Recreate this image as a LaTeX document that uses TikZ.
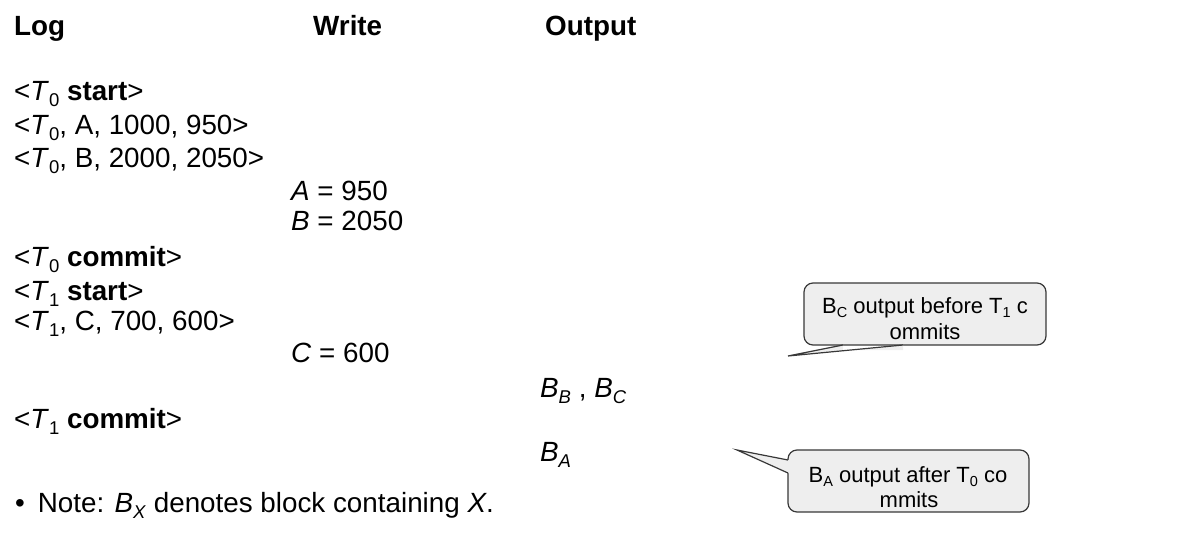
\documentclass[tikz,border=0pt]{standalone}
\usepackage{fontspec}
\setmainfont{Liberation Sans}
\newcommand{\bsub}[1]{\raisebox{-6pt}{\fontsize{18.5}{18.5}\selectfont #1}}
\newcommand{\csub}[1]{\raisebox{-4.5pt}{\fontsize{14.5}{14.5}\selectfont #1}}
\definecolor{bubblefill}{HTML}{EEEEEE}
\definecolor{bubbleline}{HTML}{383838}
\begin{document}
\begin{tikzpicture}[x=1pt,y=-1pt,
  txt/.style={anchor=base west, inner sep=0pt, font=\fontsize{27.8}{33}\selectfont},
  hdr/.style={anchor=base west, inner sep=0pt, font=\fontsize{27.8}{33}\selectfont\bfseries},
  btxt/.style={anchor=base, inner sep=0pt, font=\fontsize{22}{26}\selectfont},
  bubble/.style={fill=bubblefill, draw=bubbleline, line width=1.2pt, rounded corners=9pt, inner sep=0pt},
  tail/.style={draw=bubbleline, line width=1.2pt, line join=miter},
]
\useasboundingbox (0,0) rectangle (1192,541);

% headers
\node[hdr] (hlog) at (14,35) {Log};
\node[hdr] (hwrite) at (313,35) {Write};
\node[hdr] (hout) at (545,35) {Output};

% log column
\node[txt] (l1) at (14,100) {<\textit{T}\bsub{0} \textbf{start}>};
\node[txt] (l2) at (14,134) {<\textit{T}\bsub{0}, A, 1000, 950>};
\node[txt] (l3) at (14,167) {<\textit{T}\bsub{0}, B, 2000, 2050>};
\node[txt] (l4) at (14,266) {<\textit{T}\bsub{0} \textbf{commit}>};
\node[txt] (l5) at (14,300) {<\textit{T}\bsub{1} \textbf{start}>};
\node[txt] (l6) at (14,330) {<\textit{T}\bsub{1}, C, 700, 600>};
\node[txt] (l7) at (14,428) {<\textit{T}\bsub{1} \textbf{commit}>};

% write column
\node[txt] (w1) at (291,200) {\textit{A} = 950};
\node[txt] (w2) at (291,230) {\textit{B} = 2050};
\node[txt] (w3) at (291,362) {\textit{C} = 600};

% output column
\node[txt] (o1) at (540,397) {\textit{B}\bsub{\textit{B}} , \textit{B}\bsub{\textit{C}}};
\node[txt] (o2) at (540,461) {\textit{B}\bsub{\textit{A}}};

% note
\node[txt] (note) at (15,512) {\textbullet\hspace{13pt}Note: \textit{B}\bsub{\textit{X}} denotes block containing \textit{X}.};

% bubble 1
\node[bubble, minimum width=242pt, minimum height=62pt] (bub1) at (925,314) {};
\coordinate (tip1) at (788,356);
\coordinate (b1a) at (843,345);
\coordinate (b1b) at (903,345);
\fill[bubblefill] (b1a) -- (tip1) -- (b1b) -- ([yshift=-5pt]b1b) -- ([yshift=-5pt]b1a) -- cycle;
\draw[tail] (b1a) -- (tip1) -- (b1b);
\node[btxt] (t1a) at (925,313) {B\csub{C} output before T\csub{1} c};
\node[btxt] (t1b) at (925,339) {ommits};

% bubble 2
\node[bubble, minimum width=241pt, minimum height=62pt] (bub2) at (908.5,481) {};
\coordinate (tip2) at (737,450);
\coordinate (b2a) at (788,460);
\coordinate (b2b) at (788,473);
\fill[bubblefill] (b2a) -- (tip2) -- (b2b) -- ([xshift=5pt]b2b) -- ([xshift=5pt]b2a) -- cycle;
\draw[tail] (b2a) -- (tip2) -- (b2b);
\node[btxt] (t2a) at (908,482) {B\csub{A} output after T\csub{0} co};
\node[btxt] (t2b) at (909,507) {mmits};
\end{tikzpicture}
\end{document}
